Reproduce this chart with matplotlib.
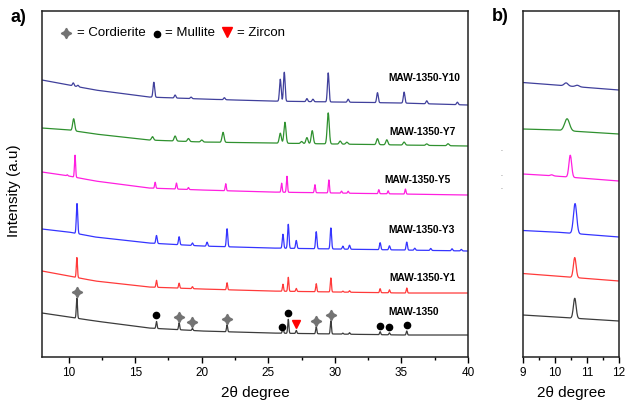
import numpy as np
import matplotlib.pyplot as plt
from matplotlib.ticker import MultipleLocator

plt.rcParams['font.family'] = ['Liberation Sans', 'DejaVu Sans']

# sample names, bottom to top
names = ['MAW-1350', 'MAW-1350-Y1', 'MAW-1350-Y3', 'MAW-1350-Y5', 'MAW-1350-Y7', 'MAW-1350-Y10']
colors = ['#3c3c3c', '#ff3a3a', '#3535ff', '#ff1fe0', '#2f912f', '#40409c']

# background (stacked, arbitrary units) read at these 2theta values
bg_x = [8, 10, 12, 16, 20, 25, 30, 35, 40]
bg_1350 = [44, 40, 36, 29, 26, 24, 23, 22, 22]
bg_y1 = [86, 81, 76, 70, 68, 66, 65, 64, 64]
bg_y3 = [128, 125, 120, 114, 111, 109, 108, 107, 106]
bg_y5 = [185, 181, 176, 169, 167, 165, 164, 163, 162]
bg_y7 = [229, 227, 223, 217, 215, 214, 213, 212, 211]
bg_y10 = [277, 272, 267, 260, 258, 256, 255, 254, 252]

# peaks: (2theta, height)
pk_1350 = [(10.62, 20), (16.6, 7), (18.3, 7), (19.3, 2), (21.9, 7), (26.1, 7), (26.5, 14),
           (27.1, 3), (28.6, 7), (29.7, 13), (30.6, 1), (31.1, 1.5), (33.4, 3), (34.1, 2), (35.4, 4)]
pk_y1 = [(10.62, 20), (16.6, 7), (18.3, 5), (19.3, 2), (21.9, 7), (26.1, 7), (26.5, 14),
         (27.1, 3), (28.6, 8), (29.7, 14), (30.6, 1), (31.1, 1.5), (33.4, 4), (34.1, 3), (35.4, 5)]
pk_y3 = [(10.63, 30), (16.6, 8), (18.3, 8), (19.3, 2.5), (20.4, 4), (21.9, 18), (26.1, 14),
         (26.5, 24), (27.1, 8), (28.6, 17), (29.7, 21), (30.6, 3), (31.1, 4), (33.4, 7),
         (34.1, 4), (35.4, 8), (36.0, 2), (37.2, 2), (38.8, 2), (39.5, 1.5)]
pk_y5 = [(9.9, 1), (10.48, 22), (16.5, 6), (18.1, 6), (19.0, 2), (21.8, 7), (26.0, 9), (26.4, 16),
         (28.5, 8), (29.55, 13), (30.5, 2), (31.0, 2), (33.3, 4), (34.0, 3), (35.3, 5)]
pk_y7 = [(10.38, 12), (16.3, 3.5), (18.0, 5), (19.0, 3), (20.0, 2), (21.6, 10), (25.9, 10),
         (26.25, 21), (27.5, 2), (27.9, 6), (28.3, 13), (29.5, 31), (30.4, 3), (30.9, 2),
         (33.2, 6), (33.9, 5), (35.2, 3), (36.9, 1.5), (38.5, 2)]
pk_y10 = [(10.35, 3), (10.7, 1.5), (16.4, 15), (18.0, 3), (19.2, 1.5), (21.7, 2), (25.9, 22),
          (26.2, 29), (27.9, 3), (28.35, 2.5), (29.5, 29), (31.0, 3), (33.2, 10), (35.2, 11),
          (36.9, 3), (39.2, 2.5)]

fwhm = [0.1, 0.1, 0.12, 0.1, 0.18, 0.14]

backgrounds = [bg_1350, bg_y1, bg_y3, bg_y5, bg_y7, bg_y10]
peak_lists = [pk_1350, pk_y1, pk_y3, pk_y5, pk_y7, pk_y10]

# phase markers on the MAW-1350 pattern
cordierite = [10.62, 18.3, 19.3, 21.9, 28.6, 29.7]
mullite = [16.6, 26.0, 26.5, 33.4, 34.1, 35.4]
zircon = [27.1]

tt = np.arange(8, 40.0001, 0.01)


def pattern(bg, pks, w):
    y = np.interp(tt, bg_x, bg)
    s = w / 2.3548
    for pos, h in pks:
        y = y + h * np.exp(-0.5 * ((tt - pos) / s) ** 2)
    return y


curves = [pattern(b, p, w) for b, p, w in zip(backgrounds, peak_lists, fwhm)]

fig = plt.figure(figsize=(6.27, 4.05), dpi=100)
ax = fig.add_axes([0.067, 0.1185, 0.6794, 0.8543])
axb = fig.add_axes([0.834, 0.1185, 0.1531, 0.8543])

for y, c in zip(curves, colors):
    ax.plot(tt, y, color=c, lw=0.9)
    axb.plot(tt, y, color=c, lw=0.9)

# labels next to each pattern
label_y = [45, 79, 127, 177, 225, 279]
label_x = [34.0, 34.1, 34.0, 33.7, 34.1, 34.0]
for n, lx, ly in zip(names, label_x, label_y):
    ax.text(lx, ly, n, fontsize=7.4, fontweight='bold', va='center', ha='left')

base = curves[0]
gap = 6
star = (4, 1, 0)
ax.plot(cordierite, np.interp(cordierite, tt, base) + gap, ls='none', marker=star,
        ms=7.5, color='#737373', mec='#737373')
ax.plot(mullite, np.interp(mullite, tt, base) + gap, ls='none', marker='o',
        ms=4.5, color='black')
ax.plot(zircon, np.interp(zircon, tt, base) + gap, ls='none', marker='v',
        ms=6, color='red')

# legend row
ax.plot([0.056], [0.937], transform=ax.transAxes, marker=star, ms=7.5, color='#737373', ls='none')
ax.text(0.083, 0.937, '= Cordierite', transform=ax.transAxes, fontsize=9.5, va='center')
ax.plot([0.271], [0.935], transform=ax.transAxes, marker='o', ms=4.5, color='black', ls='none')
ax.text(0.288, 0.937, '= Mullite', transform=ax.transAxes, fontsize=9.5, va='center')
ax.plot([0.434], [0.939], transform=ax.transAxes, marker='v', ms=7, color='red', ls='none')
ax.text(0.458, 0.937, '= Zircon', transform=ax.transAxes, fontsize=9.5, va='center')

ax.set_xlim(8, 40)
axb.set_xlim(9, 12)
for a in (ax, axb):
    a.set_ylim(0, 346)
    a.set_yticks([])
    a.tick_params(axis='x', direction='out', length=4, width=1, labelsize=8.5, pad=3)
    a.tick_params(axis='x', which='minor', direction='out', length=2.5, width=1)
    for sp in a.spines.values():
        sp.set_linewidth(1.1)
        sp.set_color('#222222')
    a.set_xlabel('2θ degree', fontsize=11, labelpad=5)

ax.xaxis.set_major_locator(MultipleLocator(5))
ax.xaxis.set_minor_locator(MultipleLocator(2.5))
axb.xaxis.set_major_locator(MultipleLocator(1))
axb.xaxis.set_minor_locator(MultipleLocator(0.5))

fig.text(0.022, 0.53, 'Intensity (a.u)', rotation=90, fontsize=11, va='center', ha='center')
fig.text(0.016, 0.957, 'a)', fontsize=13, fontweight='bold', va='center', ha='left')
fig.text(0.784, 0.959, 'b)', fontsize=13, fontweight='bold', va='center', ha='left')

# three stray specks between the panels in the original
for yy in (0.63, 0.57, 0.536):
    fig.text(0.8, yy, '.', fontsize=5, color='#555555', ha='center', va='center')

fig.savefig('out.png', dpi=100)
